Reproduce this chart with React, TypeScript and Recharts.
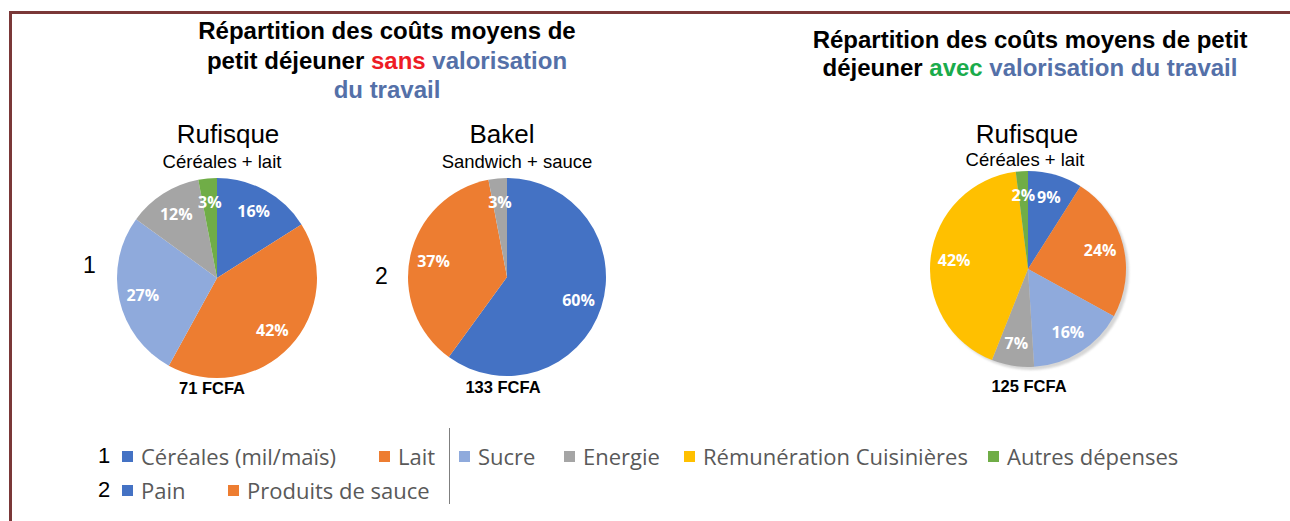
import { Pie, PieChart, Cell } from "recharts"

const pie1Names = ["Céréales (mil/maïs)", "Lait", "Sucre", "Energie", "Autres dépenses"]
const pie1Values = [16, 42, 27, 12, 3]

const pie2Names = ["Pain", "Produits de sauce", "Energie"]
const pie2Values = [60, 37, 3]

const pie3Names = ["Céréales (mil/maïs)", "Lait", "Sucre", "Energie", "Rémunération Cuisinières", "Autres dépenses"]
const pie3Values = [9, 24, 16, 7, 42, 2]

const totals = ["71 FCFA", "133 FCFA", "125 FCFA"]

const legendRow1 = ["Céréales (mil/maïs)", "Lait", "Sucre", "Energie", "Rémunération Cuisinières", "Autres dépenses"]
const legendRow2 = ["Pain", "Produits de sauce"]

const colors: Record<string, string> = {
  "Céréales (mil/maïs)": "#4472c4",
  "Pain": "#4472c4",
  "Lait": "#ed7d31",
  "Produits de sauce": "#ed7d31",
  "Sucre": "#8faadc",
  "Energie": "#a5a5a5",
  "Rémunération Cuisinières": "#ffc000",
  "Autres dépenses": "#70ad47",
}

const toRows = (names: string[], values: number[]) =>
  names.map((name, i) => ({ name, value: values[i] }))

const RAD = Math.PI / 180

const renderLabel = (p: any) => {
  const r = p.outerRadius * 0.76
  const x = p.cx + r * Math.cos(-p.midAngle * RAD)
  const y = p.cy + r * Math.sin(-p.midAngle * RAD)
  return (
    <text
      x={x}
      y={y}
      fill="#fff"
      textAnchor="middle"
      dominantBaseline="central"
      style={{ fontFamily: "'Open Sans', sans-serif", fontWeight: 700, fontSize: 16 }}
    >
      {p.value}%
    </text>
  )
}

const arial = "'Liberation Sans', Arial, sans-serif"
const calibri = "'Open Sans', sans-serif"

const abs = (left: number, top: number, extra: any = {}) => ({
  position: "absolute" as const,
  left,
  top,
  ...extra,
})

function Centered({ x, y, size, bold, lh = 1.2, children, color = "#000" }: any) {
  return (
    <div
      style={abs(x - 250, y, {
        width: 500,
        textAlign: "center",
        fontFamily: arial,
        fontSize: size,
        fontWeight: bold ? 700 : 400,
        color,
        lineHeight: lh,
        whiteSpace: "nowrap",
      })}
    >
      {children}
    </div>
  )
}

const blue = "#5470a8"

function LegendItem({ x, y, name }: { x: number; y: number; name: string }) {
  return (
    <div style={abs(x, y, { display: "flex", alignItems: "center", fontFamily: calibri, fontSize: 22, lineHeight: "30px", color: "#595959", whiteSpace: "nowrap" })}>
      <span style={{ display: "inline-block", width: 11, height: 11, background: colors[name], marginRight: 8 }} />
      {name}
    </div>
  )
}

const row1X = [122, 379, 459, 564, 684, 988]
const row2X = [122, 228]

const pieCommon = {
  dataKey: "value",
  startAngle: 90,
  endAngle: -270,
  stroke: "none",
  labelLine: false,
  label: renderLabel,
  isAnimationActive: false,
}

export default function App() {
  return (
    <div style={{ position: "absolute", left: 0, top: 0, width: 1290, height: 521, background: "#fff", overflow: "hidden" }}>
      <div style={abs(9, 11, { width: 1290, height: 521, borderLeft: "3px solid #7a3838", borderTop: "3px solid #7a3838" })} />

      <div style={abs(1031, 272, { width: 196, height: 196, borderRadius: "50%", background: "#d6d6d6", transform: "translate(-98px,-98px)", filter: "blur(1px)" })} />

      <div style={abs(0, 0)}>
        <PieChart width={1290} height={521} margin={{ top: 0, right: 0, bottom: 0, left: 0 }}>
          <Pie {...pieCommon} data={toRows(pie1Names, pie1Values)} cx={217} cy={278} outerRadius={100}>
            {pie1Names.map((n) => (
              <Cell key={n} fill={colors[n]} />
            ))}
          </Pie>
          <Pie {...pieCommon} data={toRows(pie2Names, pie2Values)} cx={507} cy={277} outerRadius={99}>
            {pie2Names.map((n) => (
              <Cell key={n} fill={colors[n]} />
            ))}
          </Pie>
          <Pie {...pieCommon} data={toRows(pie3Names, pie3Values)} cx={1028} cy={269} outerRadius={98}>
            {pie3Names.map((n) => (
              <Cell key={n} fill={colors[n]} />
            ))}
          </Pie>
        </PieChart>
      </div>

      <Centered x={387} y={16} size={24} bold lh="29.5px">
        Répartition des coûts moyens de
        <br />
        petit déjeuner <span style={{ color: "#ee1c25" }}>sans</span> <span style={{ color: blue }}>valorisation</span>
        <br />
        <span style={{ color: blue }}>du travail</span>
      </Centered>
      <Centered x={1030} y={26} size={24} bold lh="28px">
        Répartition des coûts moyens de petit
        <br />
        déjeuner <span style={{ color: "#1aab4b" }}>avec</span> <span style={{ color: blue }}>valorisation du travail</span>
      </Centered>

      <Centered x={228} y={119} size={26}>Rufisque</Centered>
      <Centered x={222} y={151} size={18.5}>Céréales + lait</Centered>
      <Centered x={502} y={119} size={26}>Bakel</Centered>
      <Centered x={517} y={151} size={18.5}>Sandwich + sauce</Centered>
      <Centered x={1027} y={119} size={26}>Rufisque</Centered>
      <Centered x={1025} y={149} size={18.5}>Céréales + lait</Centered>

      <Centered x={212} y={379} size={16.5} bold>{totals[0]}</Centered>
      <Centered x={503} y={378} size={16.5} bold>{totals[1]}</Centered>
      <Centered x={1029} y={377} size={16.5} bold>{totals[2]}</Centered>

      <div style={abs(83, 250, { fontFamily: arial, fontSize: 23, lineHeight: "30px" })}>1</div>
      <div style={abs(375, 261, { fontFamily: arial, fontSize: 23, lineHeight: "30px" })}>2</div>

      <div style={abs(98, 441, { fontFamily: arial, fontSize: 22, lineHeight: "30px" })}>1</div>
      <div style={abs(98, 475, { fontFamily: arial, fontSize: 22, lineHeight: "30px" })}>2</div>
      {legendRow1.map((n, i) => (
        <LegendItem key={n} x={row1X[i]} y={441} name={n} />
      ))}
      {legendRow2.map((n, i) => (
        <LegendItem key={n} x={row2X[i]} y={475} name={n} />
      ))}
      <div style={abs(449, 428, { width: 1, height: 76, background: "#7f7f7f" })} />
    </div>
  )
}
